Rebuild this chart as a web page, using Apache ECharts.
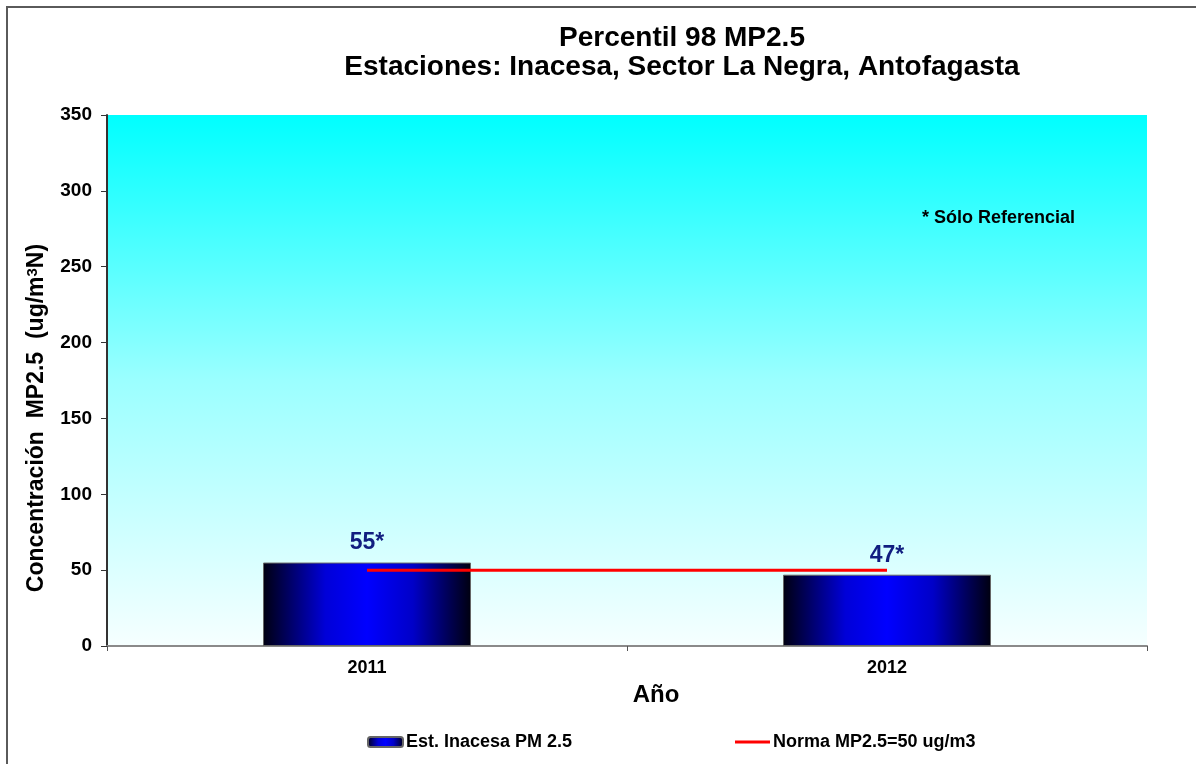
<!DOCTYPE html>
<html>
<head>
<meta charset="utf-8">
<script src="https://cdn.jsdelivr.net/npm/echarts@6/dist/echarts.min.js"></script>
<style>
  html, body { margin: 0; padding: 0; background: #fff; }
  #chart { width: 1196px; height: 764px; }
</style>
</head>
<body>
<div id="chart"></div>
<script>
// Years on the category axis
const years = ['2011', '2012'];
// 98th percentile PM2.5 at Inacesa station (ug/m3N)
const percentil98 = [55, 47];
// Annual standard for PM2.5 (ug/m3)
const norma = [50, 50];
// Value axis ticks
const yTicks = [0, 50, 100, 150, 200, 250, 300, 350];

const FONT = '"Liberation Sans", Arial, sans-serif';

const chart = echarts.init(document.getElementById('chart'));

const barGradient = new echarts.graphic.LinearGradient(0, 0, 1, 0, [
  { offset: 0, color: '#000010' },
  { offset: 0.12, color: '#000060' },
  { offset: 0.3, color: '#0000D8' },
  { offset: 0.5, color: '#0000FF' },
  { offset: 0.72, color: '#0000C8' },
  { offset: 0.9, color: '#000050' },
  { offset: 1, color: '#000010' }
]);

const legendText = { fontFamily: FONT, fontSize: 18, fontWeight: 'bold', color: '#000', padding: [0, 0, 0, -2] };

chart.setOption({
  animation: false,
  backgroundColor: '#ffffff',
  textStyle: { fontFamily: FONT },
  title: {
    text: 'Percentil 98 MP2.5\nEstaciones: Inacesa, Sector La Negra, Antofagasta',
    left: 677,
    top: 19,
    textAlign: 'center',
    textStyle: {
      fontFamily: FONT,
      fontSize: 28,
      fontWeight: 'bold',
      color: '#000',
      lineHeight: 29
    }
  },
  grid: {
    left: 107,
    right: 49,
    top: 115,
    bottom: 118,
    show: true,
    borderWidth: 0,
    backgroundColor: new echarts.graphic.LinearGradient(0, 0, 0, 1, [
      { offset: 0, color: '#00FFFF' },
      { offset: 0.5, color: '#9BFFFF' },
      { offset: 1, color: '#F6FFFF' }
    ])
  },
  legend: [
    {
      data: ['Est. Inacesa PM 2.5'],
      left: 367,
      top: 733,
      padding: 0,
      itemWidth: 35,
      itemHeight: 10,
      itemGap: 4,
      textStyle: legendText
    },
    {
      data: [{ name: 'Norma MP2.5=50 ug/m3', icon: 'rect' }],
      left: 735,
      top: 733,
      padding: 0,
      itemWidth: 35,
      itemHeight: 3,
      textStyle: legendText
    }
  ],
  xAxis: {
    type: 'category',
    data: years,
    boundaryGap: true,
    axisLine: { show: true, lineStyle: { color: '#8a8a8a', width: 2 } },
    axisTick: { show: true, inside: false, length: 5, lineStyle: { color: '#555', width: 1 } },
    axisLabel: { fontFamily: FONT, fontSize: 18, fontWeight: 'bold', color: '#000', margin: 13 },
    splitLine: { show: false }
  },
  yAxis: {
    type: 'value',
    min: yTicks[0],
    max: yTicks[yTicks.length - 1],
    interval: 50,
    axisLine: { show: true, lineStyle: { color: '#333', width: 2 } },
    axisTick: { show: true, inside: false, length: 6, lineStyle: { color: '#333', width: 1 } },
    axisLabel: { fontFamily: FONT, fontSize: 19, fontWeight: 'bold', color: '#000', margin: 15 },
    splitLine: { show: false }
  },
  series: [
    {
      name: 'Est. Inacesa PM 2.5',
      type: 'bar',
      data: percentil98,
      barWidth: '40%',
      itemStyle: { color: barGradient, borderColor: '#666', borderWidth: 1 },
      label: {
        show: true,
        position: 'top',
        distance: 8,
        formatter: '{c}*',
        fontFamily: FONT,
        fontSize: 23,
        fontWeight: 'bold',
        color: '#111E80'
      },
      z: 2
    },
    {
      name: 'Norma MP2.5=50 ug/m3',
      type: 'line',
      data: norma,
      showSymbol: false,
      symbol: 'none',
      lineStyle: { color: '#FF0000', width: 3 },
      itemStyle: { color: '#FF0000' },
      z: 3
    }
  ],
  graphic: [
    {
      type: 'rect',
      silent: true,
      shape: { x: 7, y: 7, width: 1230, height: 800 },
      style: { fill: 'none', stroke: '#5a5a5a', lineWidth: 2 },
      z: 100
    },
    {
      type: 'text',
      left: 922,
      top: 209,
      style: {
        text: '* Sólo Referencial',
        font: 'bold 18px "Liberation Sans", Arial, sans-serif',
        fill: '#000'
      },
      z: 100
    },
    {
      // x-axis title
      type: 'text',
      x: 656,
      y: 695,
      style: {
        text: 'Año',
        font: 'bold 24px "Liberation Sans", Arial, sans-serif',
        fill: '#000',
        align: 'center',
        verticalAlign: 'middle'
      },
      z: 100
    },
    {
      // y-axis title, rotated
      type: 'text',
      x: 37,
      y: 418,
      rotation: Math.PI / 2,
      style: {
        text: 'Concentración  MP2.5  (ug/m{sup|3}N)',
        rich: {
          sup: { font: 'bold 15px "Liberation Sans", Arial, sans-serif', fill: '#000', verticalAlign: 'top', padding: [0, 0, 8, 0] }
        },
        font: 'bold 23px "Liberation Sans", Arial, sans-serif',
        fill: '#000',
        align: 'center',
        verticalAlign: 'middle'
      },
      z: 100
    }
  ]
});
</script>
</body>
</html>
